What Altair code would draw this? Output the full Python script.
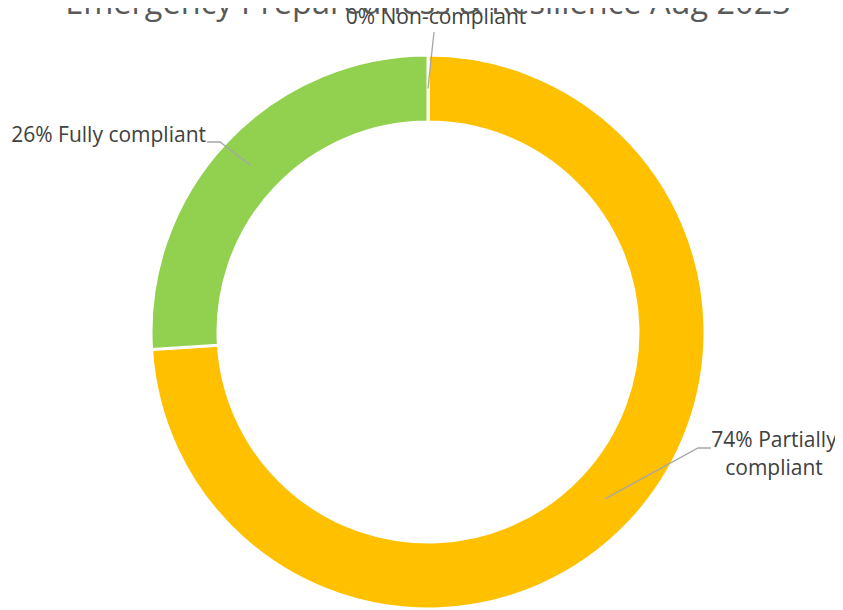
import math
import altair as alt
import pandas as pd

# ---- data ----
categories = ["Non-compliant", "Partially compliant", "Fully compliant"]
values = [0, 74, 26]
label_texts = ["0% Non-compliant", "74% Partially\ncompliant", "26% Fully compliant"]
colors = ["#FF0000", "#FFC000", "#92D050"]
title_text = "Emergency Preparedness & Resilience Aug 2023"

# ---- layout (chart pixel space) ----
W, H = 827, 602
CX, CY = 420, 324
R_OUT, R_IN = 277, 210
R_MID = (R_OUT + R_IN) / 2

df = pd.DataFrame({"category": categories, "value": values, "order": range(len(categories))})

# leader line start = middle of the ring at each slice's mid-angle (derived from values)
total = sum(values)
starts = []
acc = 0
for v in values:
    mid = (acc + v / 2) / total * 2 * math.pi
    starts.append((CX + R_MID * math.sin(mid), CY - R_MID * math.cos(mid)))
    acc += v

# label placement (elbow points and text anchors), layout only
elbows = [
    [(426, 24)],
    [(690, 440), (703, 440)],
    [(212, 134), (199, 134)],
]
text_pos = [(428, 16, "center"), (766, 439, "center"), (198, 134, "right")]

line_rows = []
for i, cat in enumerate(categories):
    pts = [starts[i]] + elbows[i]
    for k, (x, y) in enumerate(pts):
        line_rows.append({"category": cat, "k": k, "x": x, "y": y})
lines_df = pd.DataFrame(line_rows)

text_df = pd.DataFrame({
    "category": categories,
    "label": label_texts,
    "x": [p[0] for p in text_pos],
    "y": [p[1] for p in text_pos],
    "align": [p[2] for p in text_pos],
})

FONT = "Open Sans"

arc = alt.Chart(df).mark_arc(
    outerRadius=R_OUT, innerRadius=R_IN, stroke="white", strokeWidth=3
).encode(
    theta=alt.Theta("value:Q", stack=True),
    color=alt.Color("category:N", scale=alt.Scale(domain=categories, range=colors), legend=None),
    order=alt.Order("order:Q"),
    x=alt.value(CX),
    y=alt.value(CY),
)

leaders = alt.Chart(lines_df).mark_line(color="#A6A6A6", strokeWidth=1.3).encode(
    x=alt.X("x:Q", scale=None),
    y=alt.Y("y:Q", scale=None),
    detail="category:N",
    order="k:Q",
)

def label_layer(align):
    sub = text_df[text_df["align"] == align]
    return alt.Chart(sub).mark_text(
        font=FONT, fontSize=21, color="#404040", align=align, baseline="alphabetic",
        lineBreak="\n", lineHeight=28,
    ).encode(
        x=alt.X("x:Q", scale=None),
        y=alt.Y("y:Q", scale=None),
        text="label:N",
    )

title = alt.Chart(pd.DataFrame({"t": [title_text]})).mark_text(
    font=FONT, fontSize=32.5, color="#595959", align="center", baseline="alphabetic"
).encode(
    x=alt.value(CX), y=alt.value(6), text="t:N"
)

chart = alt.layer(arc, leaders, label_layer("center"), label_layer("right"), title).properties(
    width=W, height=H, padding=0, autosize=alt.AutoSizeParams(type="none")
).configure_view(stroke=None)

chart.save("out.html", embed_options={"renderer": "svg", "actions": False})
